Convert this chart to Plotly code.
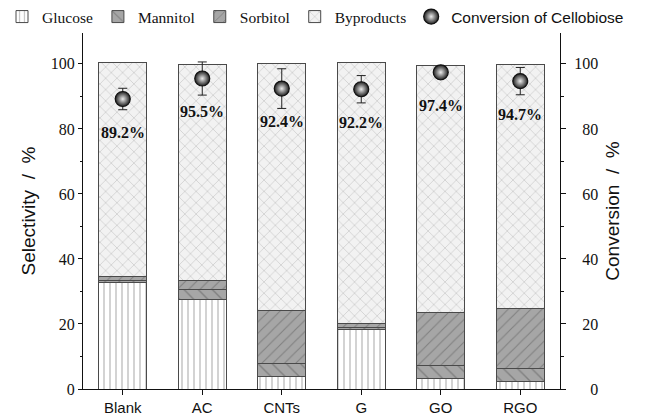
import plotly.graph_objects as go

# Catalysts on the x axis
catalysts = ["Blank", "AC", "CNTs", "G", "GO", "RGO"]

# Product selectivity (%) per catalyst, stacked bottom to top
glucose = [32.7, 27.4, 3.8, 18.3, 3.3, 2.4]
mannitol = [0.8, 3.3, 3.9, 0.7, 3.9, 3.9]
sorbitol = [1.2, 2.6, 16.5, 1.1, 16.3, 18.4]
byproducts = [65.6, 66.4, 75.8, 80.2, 76.1, 75.1]

# Cellobiose conversion (%) and its error
conversion = [89.2, 95.5, 92.4, 92.2, 97.4, 94.7]
conversion_err = [3.3, 5.1, 6.1, 4.2, 1.5, 4.2]

# Axis ticks
y_ticks = [0, 20, 40, 60, 80, 100]
y2_ticktext = ["\u2007\u20070", "\u200720", "\u200740", "\u200760", "\u200780", "100"]

SERIF = "Liberation Serif"
SANS = "Liberation Sans"
EDGE = "#4a4a4a"
W, H = 654, 417
PLOT_L, PLOT_R = 83, 560  # horizontal extent of the axes, px

fig = go.Figure()

bar_styles = [
    ("Glucose", glucose, "#ffffff", "|", "#858585", 6, 0.24),
    ("Mannitol", mannitol, "#a6a6a6", "\\", "#5a5a5a", 10, 0.14),
    ("Sorbitol", sorbitol, "#a6a6a6", "/", "#5a5a5a", 8, 0.14),
    ("Byproducts", byproducts, "#f2f2f2", "x", "#8e8e8e", 8, 0.14),
]
for name, vals, bg, shape, fg, size, sol in bar_styles:
    fig.add_trace(go.Bar(
        x=catalysts, y=vals, name=name, width=0.6,
        marker=dict(
            color=bg,
            line=dict(color=EDGE, width=1),
            pattern=dict(shape=shape, fgcolor=fg, size=size, solidity=sol,
                         fillmode="overlay"),
        ),
    ))

fig.add_trace(go.Scatter(
    x=catalysts, y=conversion, yaxis="y2", mode="markers",
    name="<span style='font-family:Liberation Sans'>Conversion of Cellobiose</span>",
    marker=dict(size=15, color="#1e1e1e",
                gradient=dict(type="radial", color="#ececec"),
                line=dict(color="#111111", width=1.2)),
    error_y=dict(type="data", array=conversion_err, color="#222222",
                 thickness=1, width=4.5),
))

# Conversion values printed under each marker
for cat, val in zip(catalysts, conversion):
    fig.add_annotation(x=cat, y=val, yref="y2", text=f"<b>{val}%</b>",
                       showarrow=False, yshift=-33,
                       font=dict(family=SERIF, size=16, color="#111111"))

fig.update_layout(
    width=W, height=H,
    margin=dict(l=0, r=0, t=33, b=28, autoexpand=False),
    barmode="stack",
    plot_bgcolor="white", paper_bgcolor="white",
    showlegend=True,
    legend=dict(orientation="h", traceorder="normal",
                x=2 / W, xanchor="left",
                y=1 + 16 / 356, yanchor="middle",
                font=dict(family=SERIF, size=15.5, color="#111111"),
                itemwidth=30, tracegroupgap=0, bgcolor="rgba(0,0,0,0)"),
    xaxis=dict(
        domain=[PLOT_L / W, PLOT_R / W],
        range=[-0.5, 5.5], showline=True, linecolor="#111111", linewidth=1.2,
        ticks="outside", ticklen=5, tickcolor="#111111",
        tickfont=dict(family=SANS, size=15, color="#111111"),
        minor=dict(ticks="outside", ticklen=3, tickcolor="#111111", dtick=0.5),
        showgrid=False, zeroline=False,
    ),
    yaxis=dict(
        range=[0, 109.5], tickvals=y_ticks, showline=True, linecolor="#111111",
        linewidth=1.2, ticks="outside", ticklen=4, tickcolor="#111111",
        tickfont=dict(family=SERIF, size=16, color="#111111"),
        minor=dict(ticks="outside", ticklen=2, tickcolor="#111111", dtick=10),
        showgrid=False, zeroline=False,
        title=dict(text="Selectivity  /  %", standoff=10,
                   font=dict(family=SANS, size=19, color="#111111")),
    ),
    yaxis2=dict(
        range=[0, 109.5], overlaying="y", side="right", anchor="x",
        tickvals=y_ticks, ticktext=y2_ticktext, showline=True,
        linecolor="#111111", linewidth=1.2, ticks="outside", ticklen=5,
        tickcolor="#111111", tickfont=dict(family=SERIF, size=16, color="#111111"),
        minor=dict(ticks="outside", ticklen=3, tickcolor="#111111", dtick=10),
        showgrid=False, zeroline=False, ticklabelstandoff=5,
        title=dict(text="Conversion  /  %", standoff=8,
                   font=dict(family=SANS, size=19, color="#111111")),
    ),
)

fig.write_html("out.html")
